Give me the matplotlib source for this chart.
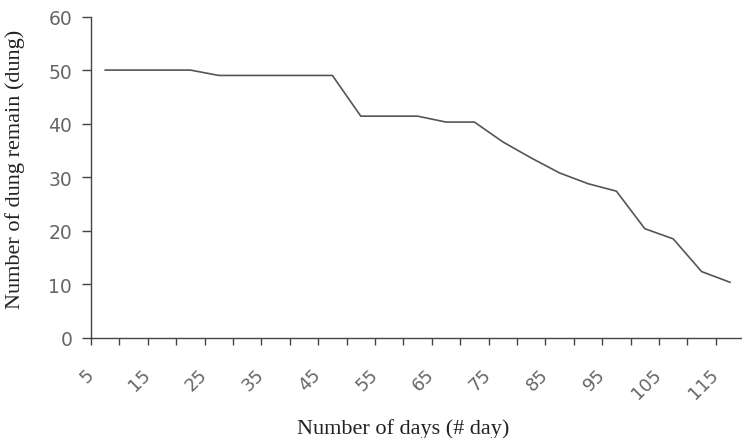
import numpy as np
import matplotlib
matplotlib.use("Agg")
import matplotlib.pyplot as plt

# days after deposition and mean number of dung piles remaining
days = [5, 10, 15, 20, 25, 30, 35, 40, 45, 50, 55, 60,
        65, 70, 75, 80, 85, 90, 95, 100, 105, 110, 115]
dung_remain = [50, 50, 50, 50, 49, 49, 49, 49, 49, 41.4, 41.4, 41.4,
               40.3, 40.3, 36.6, 33.6, 30.8, 28.8, 27.4, 20.4, 18.5, 12.4, 10.4]
day_labels = [5, 15, 25, 35, 45, 55, 65, 75, 85, 95, 105, 115]
y_ticks = [0, 10, 20, 30, 40, 50, 60]

fig = plt.figure(figsize=(7.42, 4.39), dpi=100)
ax = fig.add_axes([91 / 742, 100 / 439, 1 - 91 / 742, 321.5 / 439])

ax.plot(days, dung_remain, color="#555555", lw=1.2)

# category style axis: tick marks sit between the 5-day points
ticks = np.arange(2.5, 115, 5)
labels = []
for t in ticks:
    d = int(t + 2.5)
    labels.append(str(d) if d in day_labels else "")
ax.set_xticks(ticks)
ax.set_xticklabels(labels, rotation=45, ha="right", va="center",
                   rotation_mode="anchor", fontsize=13, color="#666666")
ax.set_xlim(2.5, 2.5 + 651 / 5.68)

ax.set_yticks(y_ticks)
ax.set_yticklabels([str(v) for v in y_ticks], fontsize=13.5, color="#666666")
ax.set_ylim(0, 60)

ax.tick_params(axis="x", direction="out", length=5, width=1, color="#444444", pad=19)
ax.tick_params(axis="y", direction="out", length=6.5, width=1, color="#444444", pad=7)

for s in ["top", "right"]:
    ax.spines[s].set_visible(False)
for s in ["left", "bottom"]:
    ax.spines[s].set_color("#444444")
    ax.spines[s].set_linewidth(1)

ax.set_xlabel("Number of days (# day)", family="Liberation Serif", fontsize=16, color="#222222")
ax.xaxis.set_label_coords(312 / 651, -80 / 321.5)
ax.set_ylabel("Number of dung remain (dung)", family="Liberation Serif", fontsize=16, color="#222222")
ax.yaxis.set_label_coords(-66 / 651, 170 / 321.5)

fig.savefig("out.png", dpi=100)
